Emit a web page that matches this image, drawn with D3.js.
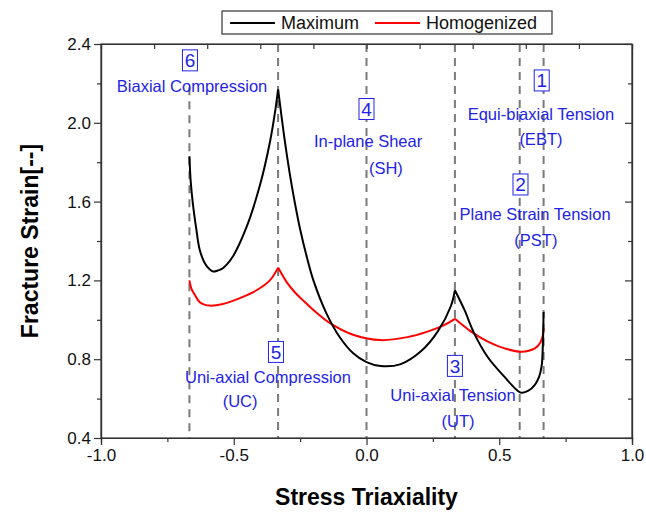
<!DOCTYPE html>
<html>
<head>
<meta charset="utf-8">
<script src="https://cdn.jsdelivr.net/npm/d3@7"></script>
<style>
  body { margin: 0; background: #fff; }
  text { font-family: "Liberation Sans", Arial, sans-serif; }
</style>
</head>
<body>
<svg id="chart" width="646" height="512"></svg>
<script>
// fracture strain vs stress triaxiality
const maximum = [
  [-0.667, 1.83], [-0.662, 1.70], [-0.654, 1.59], [-0.641, 1.46], [-0.629, 1.36],
  [-0.610, 1.29], [-0.590, 1.255], [-0.578, 1.245], [-0.560, 1.25], [-0.541, 1.262],
  [-0.504, 1.32], [-0.452, 1.47], [-0.402, 1.68], [-0.364, 1.90], [-0.345, 2.05],
  [-0.333, 2.17], [-0.310, 1.93], [-0.290, 1.75], [-0.270, 1.595], [-0.250, 1.46],
  [-0.225, 1.32], [-0.200, 1.20], [-0.150, 1.03], [-0.100, 0.91], [-0.050, 0.83],
  [0.000, 0.785], [0.053, 0.765], [0.129, 0.775], [0.205, 0.84], [0.268, 0.94],
  [0.318, 1.07], [0.333, 1.15], [0.369, 1.05], [0.406, 0.93], [0.457, 0.81],
  [0.520, 0.71], [0.565, 0.645], [0.583, 0.63], [0.610, 0.64], [0.634, 0.67],
  [0.650, 0.71], [0.660, 0.77], [0.664, 0.86], [0.667, 1.04]
];
const homogenized = [
  [-0.667, 1.20], [-0.660, 1.16], [-0.648, 1.13], [-0.629, 1.09], [-0.610, 1.077],
  [-0.591, 1.072], [-0.541, 1.08], [-0.477, 1.11], [-0.414, 1.15], [-0.364, 1.20],
  [-0.333, 1.265], [-0.300, 1.19], [-0.270, 1.14], [-0.240, 1.10], [-0.200, 1.05],
  [-0.136, 0.982], [-0.048, 0.923], [0.053, 0.897], [0.154, 0.912], [0.230, 0.94],
  [0.280, 0.965], [0.333, 1.005], [0.394, 0.94], [0.457, 0.889], [0.520, 0.855],
  [0.583, 0.838], [0.634, 0.855], [0.655, 0.885], [0.664, 0.92], [0.667, 0.96]
];
const cusps = [-0.333, 0.333];
const stateLines = [-0.667, -0.333, 0, 0.333, 0.577, 0.667];
const stateLineTops = [2.18, 2.4, 2.4, 2.4, 2.4, 2.4];
const xTicks = [-1.0, -0.5, 0.0, 0.5, 1.0];
const yTicks = [0.4, 0.8, 1.2, 1.6, 2.0, 2.4];

// number boxes and labels of the stress states
const stateNums = [
  { n: "6", x: -0.665, y: 2.317 },
  { n: "4", x: 0.0, y: 2.07 },
  { n: "1", x: 0.66, y: 2.215 },
  { n: "2", x: 0.58, y: 1.687 },
  { n: "5", x: -0.341, y: 0.837 },
  { n: "3", x: 0.333, y: 0.766 }
];
const stateLabels = [
  { t: "Biaxial Compression", x: -0.657, y: 2.185 },
  { t: "In-plane Shear", x: 0.006, y: 1.904 },
  { t: "(SH)", x: 0.073, y: 1.767 },
  { t: "Equi-biaxial Tension", x: 0.657, y: 2.042 },
  { t: "(EBT)", x: 0.657, y: 1.915 },
  { t: "Plane Strain Tension", x: 0.635, y: 1.535 },
  { t: "(PST)", x: 0.638, y: 1.403 },
  { t: "Uni-axial Compression", x: -0.371, y: 0.705 },
  { t: "(UC)", x: -0.476, y: 0.583 },
  { t: "Uni-axial Tension", x: 0.326, y: 0.614 },
  { t: "(UT)", x: 0.345, y: 0.482 }
];

const margin = { top: 44, right: 14, bottom: 74, left: 101 };
const svg = d3.select("#chart");
const width = 646 - margin.left - margin.right;
const height = 512 - margin.top - margin.bottom;
const g = svg.append("g").attr("transform", `translate(${margin.left},${margin.top})`);

const x = d3.scaleLinear().domain([-1, 1]).range([0, width]);
const y = d3.scaleLinear().domain([0.4, 2.4]).range([height, 0]);

const blue = "#2323e6";
const axisColor = "#333";
const fmt = d => d.toFixed(1);

// dashed lines at the stress states
g.append("g").selectAll("line")
  .data(stateLines)
  .enter().append("line")
  .attr("x1", d => x(d)).attr("x2", d => x(d))
  .attr("y1", (d, i) => y(stateLineTops[i])).attr("y2", height)
  .attr("stroke", "#7a7a7a")
  .attr("stroke-width", 2)
  .attr("stroke-dasharray", "8,6");

// split series at the cusps so the peaks stay sharp
function pieces(data) {
  const out = [];
  let cur = [];
  data.forEach(p => {
    cur.push(p);
    if (cusps.some(c => Math.abs(c - p[0]) < 1e-6)) {
      out.push(cur);
      cur = [p];
    }
  });
  if (cur.length > 1) out.push(cur);
  return out;
}

const line = d3.line()
  .x(d => x(d[0]))
  .y(d => y(d[1]))
  .curve(d3.curveCatmullRom.alpha(0.5));

const series = [
  { data: homogenized, color: "#ff0000" },
  { data: maximum, color: "#000" }
];
series.forEach(s => {
  const path = pieces(s.data).map(p => line(p)).join("");
  g.append("path")
    .attr("d", path)
    .attr("fill", "none")
    .attr("stroke", s.color)
    .attr("stroke-width", 2)
    .attr("stroke-linejoin", "round");
});

// state labels
g.append("g").selectAll("text")
  .data(stateLabels)
  .enter().append("text")
  .attr("x", d => x(d.x))
  .attr("y", d => y(d.y) + 5.5)
  .attr("text-anchor", "middle")
  .attr("font-size", 16.5)
  .attr("fill", blue)
  .text(d => d.t);

const nums = g.append("g").selectAll("g")
  .data(stateNums)
  .enter().append("g")
  .attr("transform", d => `translate(${x(d.x)},${y(d.y)})`);
nums.append("rect")
  .attr("x", -7.5).attr("y", -10.5)
  .attr("width", 15).attr("height", 21)
  .attr("fill", "#fff")
  .attr("stroke", blue)
  .attr("stroke-width", 1);
nums.append("text")
  .attr("y", 7)
  .attr("text-anchor", "middle")
  .attr("font-size", 19)
  .attr("fill", blue)
  .text(d => d.n);

// axes
g.append("g").attr("transform", `translate(0,${height})`)
  .call(d3.axisBottom(x).tickValues(xTicks).tickFormat(fmt).tickSize(7).tickPadding(4));
g.append("g").attr("transform", `translate(0,${height})`)
  .call(d3.axisBottom(x).tickValues(d3.range(-0.75, 1, 0.5)).tickFormat("").tickSize(4));
g.append("g")
  .call(d3.axisLeft(y).tickValues(yTicks).tickFormat(fmt).tickSize(7).tickPadding(3));
g.append("g")
  .call(d3.axisLeft(y).tickValues(d3.range(0.6, 2.4, 0.4)).tickFormat("").tickSize(4));
g.append("g")
  .call(d3.axisTop(x).tickValues(d3.range(-0.8, 1, 0.2)).tickFormat("").tickSize(-5));
g.append("g").attr("transform", `translate(${width},0)`)
  .call(d3.axisRight(y).tickValues(yTicks).tickFormat("").tickSize(-7));
g.append("g").attr("transform", `translate(${width},0)`)
  .call(d3.axisRight(y).tickValues(d3.range(0.6, 2.4, 0.4)).tickFormat("").tickSize(-4));

g.selectAll(".domain").attr("stroke", axisColor).attr("stroke-width", 1.2);
g.selectAll(".tick line").attr("stroke", axisColor).attr("stroke-width", 1.2);
g.selectAll(".tick text")
  .attr("font-size", 17)
  .attr("fill", "#111")
  .style("font-family", "'Liberation Sans', Arial, sans-serif");

// close the frame
g.append("rect")
  .attr("width", width).attr("height", height)
  .attr("fill", "none")
  .attr("stroke", axisColor)
  .attr("stroke-width", 1.2);

// axis titles
svg.append("text")
  .attr("x", margin.left + x(0))
  .attr("y", 505)
  .attr("text-anchor", "middle")
  .attr("font-size", 23)
  .attr("font-weight", "bold")
  .text("Stress Triaxiality");

svg.append("text")
  .attr("transform", `translate(38,${margin.top + height / 2}) rotate(-90)`)
  .attr("text-anchor", "middle")
  .attr("font-size", 23)
  .attr("font-weight", "bold")
  .text("Fracture Strain[--]");

// legend
const legend = svg.append("g").attr("transform", "translate(222,11)");
legend.append("rect")
  .attr("width", 330).attr("height", 23)
  .attr("fill", "#fff")
  .attr("stroke", axisColor)
  .attr("stroke-width", 1.2);
const legendItems = [
  { name: "Maximum", color: "#000", x0: 8 },
  { name: "Homogenized", color: "#ff0000", x0: 153 }
];
legendItems.forEach(it => {
  legend.append("line")
    .attr("x1", it.x0).attr("x2", it.x0 + 45)
    .attr("y1", 12).attr("y2", 12)
    .attr("stroke", it.color)
    .attr("stroke-width", 2);
  legend.append("text")
    .attr("x", it.x0 + 51)
    .attr("y", 18)
    .attr("font-size", 18)
    .attr("fill", "#111")
    .text(it.name);
});
</script>
</body>
</html>
